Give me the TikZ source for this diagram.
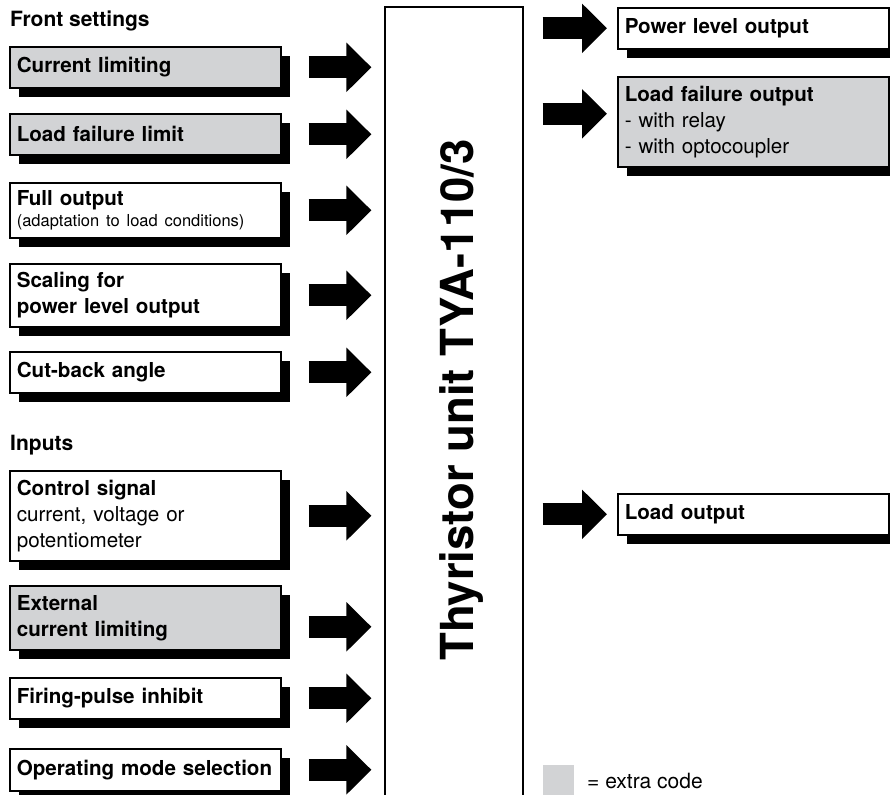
\documentclass[tikz,border=0pt]{standalone}
\usepackage{fontspec}
\setmainfont{TeX Gyre Heros}
\usetikzlibrary{arrows.meta,shadows}
\definecolor{extragray}{RGB}{210,211,213}

\begin{document}
\begin{tikzpicture}[x=1pt,y=-1pt,
  setbox/.style={draw,line width=1.6pt,fill=white,text width=257pt,inner xsep=7pt,inner ysep=4pt,
    align=left,anchor=north west,minimum height=41pt,font=\fontsize{20.6}{26}\selectfont,
    drop shadow={shadow xshift=9pt,shadow yshift=-9pt,fill=black,opacity=1}},
  extra/.style={fill=extragray},
  blockarrow/.style={line width=22pt,-{Triangle[length=25pt,width=48pt]}},
  heading/.style={anchor=base west,inner sep=0pt,font=\bfseries\fontsize{21}{26}\selectfont}]
\useasboundingbox (0,0) rectangle (890,794);
% unit
\node[draw,line width=1.2pt,minimum width=138pt,minimum height=800pt,inner sep=0pt] (main) at (454,407) {};
\node[rotate=90,anchor=base,inner sep=0pt,font=\bfseries\fontsize{45.5}{50}\selectfont] (mainlabel) at (473,400) {Thyristor unit TYA-110/3};
% front settings
\node[heading] (front) at (10,27) {Front settings};
\node[setbox,extra] (curlim) at (9,46) {\textbf{Current limiting}};
\node[setbox,extra] (lflimit) at (9,113) {\textbf{Load failure limit}};
\node[setbox,minimum height=55pt] (fullout) at (9,182) {\textbf{Full output}\\[-5pt]{\fontsize{16.5}{19}\selectfont(adaptation to load conditions)}};
\node[setbox,minimum height=63pt] (scaling) at (9,263) {\textbf{Scaling for}\\\textbf{power level output}};
\node[setbox] (cutback) at (9,351) {\textbf{Cut-back angle}};
% inputs
\node[heading] (inputs) at (10,450) {Inputs};
\node[setbox,minimum height=90pt] (control) at (9,470) {\textbf{Control signal}\\current, voltage or\\potentiometer};
\node[setbox,extra,minimum height=64pt] (extlim) at (9,585) {\textbf{External}\\\textbf{current limiting}};
\node[setbox] (firing) at (9,677) {\textbf{Firing-pulse inhibit}};
\node[setbox,minimum height=42pt] (opmode) at (9,748) {\mbox{\textbf{Operating mode selection}}};
% outputs
\node[setbox] (pwrout) at (617,7) {\textbf{Power level output}};
\node[setbox,extra,minimum height=90pt] (lfout) at (617,76) {\textbf{Load failure output}\\- with relay\\- with optocoupler};
\node[setbox] (loadout) at (617,493) {\textbf{Load output}};
% arrows in
\foreach \n in {curlim,lflimit,fullout,scaling,cutback,control,firing,opmode}
  \draw[blockarrow,shorten <=27pt,shorten >=13pt] (\n.east) -- (\n.east -| main.west);
\draw[blockarrow,shorten <=27pt,shorten >=13pt] ([yshift=-9pt]extlim.east) -- ([yshift=-9pt]extlim.east -| main.west);
% arrows out
\draw[blockarrow,shorten <=19pt,shorten >=10pt] (main.east |- pwrout.west) -- (pwrout.west);
\draw[blockarrow,shorten <=19pt,shorten >=10pt] ([yshift=8pt]main.east |- lfout.west) -- ([yshift=8pt]lfout.west);
\draw[blockarrow,shorten <=19pt,shorten >=10pt] (main.east |- loadout.west) -- (loadout.west);
% legend
\node[fill=extragray,minimum size=31pt,inner sep=0pt,anchor=north west] (legendbox) at (543,765) {};
\node[anchor=base west,inner sep=0pt,font=\fontsize{21}{26}\selectfont] (legendtext) at (587,788) {= extra code};
\end{tikzpicture}
\end{document}
